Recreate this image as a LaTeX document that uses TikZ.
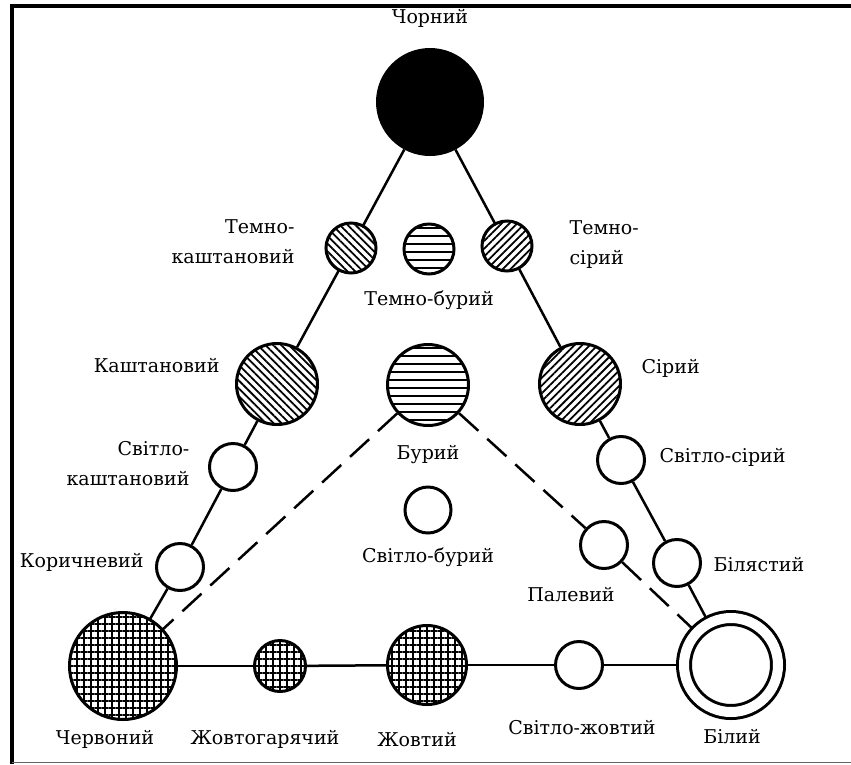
\documentclass[tikz,border=0pt]{standalone}
\usepackage{fontspec}
\setmainfont{DejaVu Serif}
\usetikzlibrary{patterns.meta}

\begin{document}
\begin{tikzpicture}[x=1pt, y=-1pt, line width=2.5pt]
        \tikzstyle{every node}=[font=\fontsize{19}{30}\selectfont, text=black]
        \tikzstyle{tone}=[circle, draw=black, line width=3pt, inner sep=0pt]
        \tikzstyle{chestnut}=[tone, pattern={Lines[angle=-45, distance=5.5pt, line width=1.8pt]}]
        \tikzstyle{ash}=[tone, pattern={Lines[angle=45, distance=5.5pt, line width=1.8pt]}]
        \tikzstyle{umber}=[tone, pattern={Lines[angle=0, distance=8pt, line width=2.4pt]}]
        \tikzstyle{ochre}=[tone, pattern={Hatch[distance=7pt, line width=2pt]}]
        \tikzstyle{guide}=[dash pattern=on 26pt off 12pt]

        \useasboundingbox (0,0) rectangle (851,764);

        % frame
        \draw[line width=4pt] (12,4) -- (12,764);
        \draw[line width=4pt] (10,5.5) -- (851,5.5);
        \draw[line width=1.5pt, black!60] (12,762.5) -- (851,762.5);

        % tones
        \node[tone, fill=black, minimum size=105pt] (ch) at (430,102) {};
        \node[chestnut, minimum size=50pt]  (tk) at (351,248) {};
        \node[umber, minimum size=50pt]     (tb) at (429,249) {};
        \node[ash, minimum size=50pt]       (ts) at (507,246) {};
        \node[chestnut, minimum size=81pt]  (ka) at (277,384) {};
        \node[umber, minimum size=81pt]     (bu) at (428,385) {};
        \node[ash, minimum size=81pt]       (si) at (580,384) {};
        \node[tone, minimum size=47pt]      (sk) at (233,467) {};
        \node[tone, minimum size=47pt]      (ss) at (621,460) {};
        \node[tone, minimum size=46pt]      (sb) at (428,510) {};
        \node[tone, minimum size=47pt]      (ko) at (180,567) {};
        \node[tone, minimum size=47pt]      (pa) at (604,545) {};
        \node[tone, minimum size=47pt]      (bl) at (677,563) {};
        \node[ochre, minimum size=107pt]    (cr) at (123,666) {};
        \node[ochre, minimum size=51pt]     (zg) at (280,666) {};
        \node[ochre, minimum size=79pt]     (zh) at (427,665) {};
        \node[tone, minimum size=47pt]      (sz) at (579,665) {};
        \node[tone, double, double distance=10pt, minimum size=94pt, outer sep=7pt] (bi) at (731,665) {};

        % names
        \node (lch) at (430,18) {Чорний};
        \node[anchor=east, align=right] (ltk) at (299,242) {Темно-\\каштановий};
        \node (ltb) at (429,300) {Темно-бурий};
        \node[anchor=west, align=left] (lts) at (565,245) {Темно-\\сірий};
        \node[anchor=east] (lka) at (224,366) {Каштановий};
        \node (lbu) at (428,455) {Бурий};
        \node[anchor=west] (lsi) at (637,368) {Сірий};
        \node[anchor=east, align=right] (lsk) at (194,464) {Світло-\\каштановий};
        \node[anchor=west] (lss) at (655,457) {Світло-сірий};
        \node (lsb) at (428,557) {Світло-бурий};
        \node[anchor=east] (lko) at (148,562) {Коричневий};
        \node (lpa) at (571,595) {Палевий};
        \node[anchor=west] (lbl) at (709,565) {Білястий};
        \node (lcr) at (105,739) {Червоний};
        \node (lzg) at (265,739) {Жовтогарячий};
        \node (lzh) at (417,740) {Жовтий};
        \node (lsz) at (582,728) {Світло-жовтий};
        \node (lbi) at (732,737) {Білий};

        \path
            (ch) edge (tk)
            (tk) edge (ka)
            (ka) edge (sk)
            (sk) edge (ko)
            (ko) edge (cr)
            (ch) edge (ts)
            (ts) edge (si)
            (si) edge (ss)
            (ss) edge (bl)
            (bl) edge (bi)
            (cr) edge (zg)
            (zg) edge (zh)
            (zh) edge (sz)
            (sz) edge (bi)
            (bu) edge[guide] (cr)
            (bu) edge[guide] (pa)
            (pa) edge[guide] (bi)
        ;
\end{tikzpicture}
\end{document}
